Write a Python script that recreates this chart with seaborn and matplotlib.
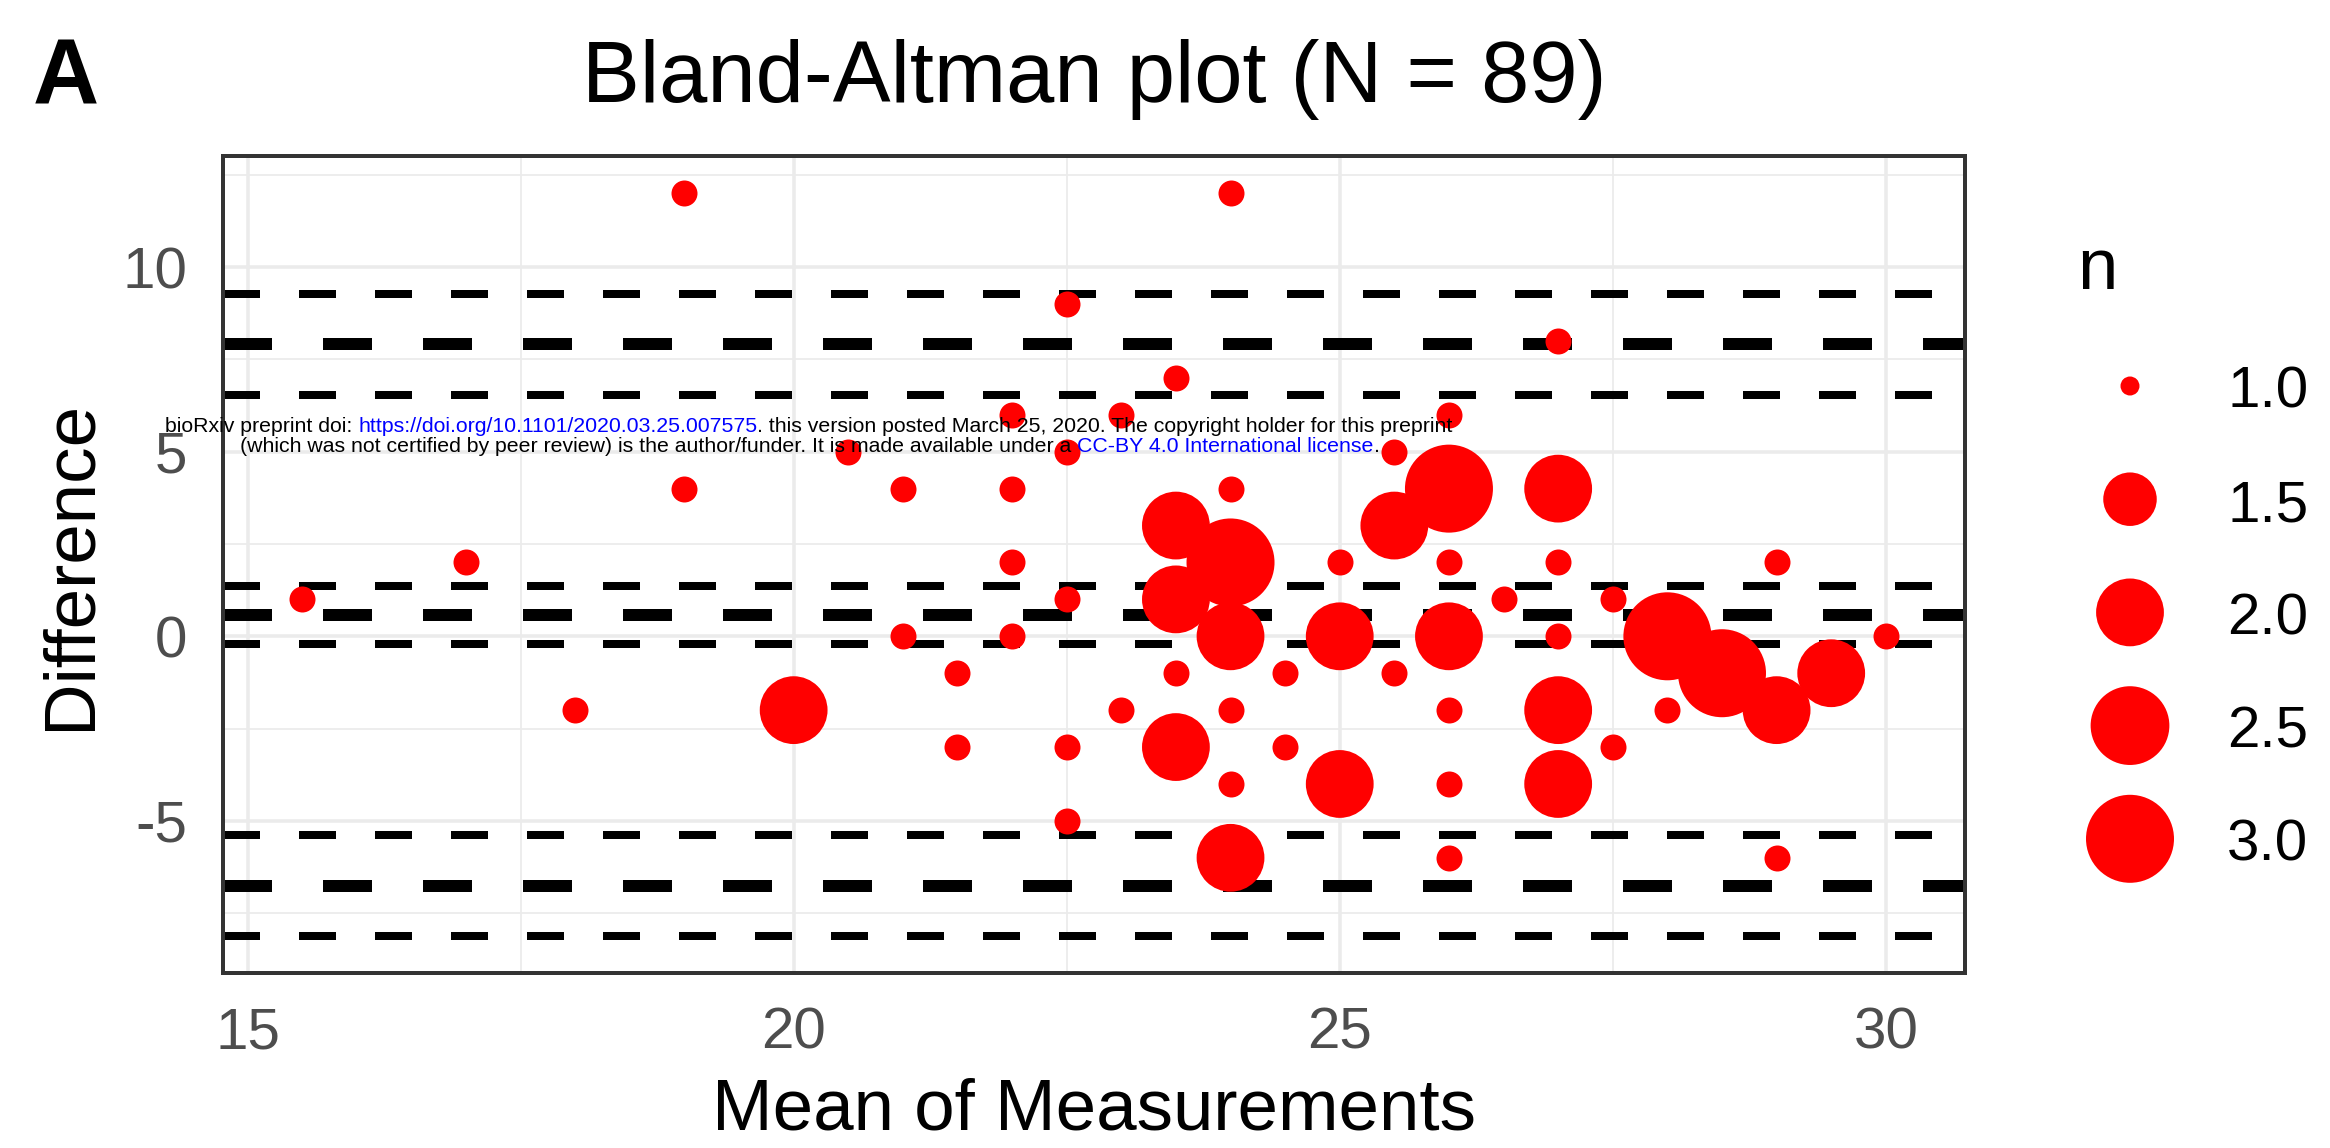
import matplotlib
matplotlib.use("Agg")
import numpy as np
import pandas as pd
import matplotlib.pyplot as plt
import seaborn as sns

mean_vals = [19, 24, 22.5, 27, 23.5, 22, 23, 26, 20.5, 22.5, 25.5, 19, 21, 22, 24,
             17, 22, 25, 26, 27, 29, 15.5, 22.5, 26.5, 27.5, 21, 22, 27, 30,
             21.5, 23.5, 24.5, 25.5, 18, 23, 24, 26, 28, 21.5, 22.5, 24.5, 27.5,
             24, 26, 22.5, 26, 29,
             25.5, 23.5, 27, 23.5, 20, 24, 25, 26, 23.5, 25, 24, 29.5, 29, 27, 27,
             26, 24, 28, 28.5]
diff_vals = [12, 12, 9, 8, 7, 6, 6, 6, 5, 5, 5, 4, 4, 4, 4,
             2, 2, 2, 2, 2, 2, 1, 1, 1, 1, 0, 0, 0, 0,
             -1, -1, -1, -1, -2, -2, -2, -2, -2, -3, -3, -3, -3,
             -4, -4, -5, -6, -6,
             3, 3, 4, 1, -2, 0, 0, 0, -3, -4, -6, -1, -2, -2, -4,
             4, 2, 0, -1]
n_vals = [1] * 47 + [2] * 15 + [3] * 4

# reference lines
bias = 0.59
bias_ci = [-0.22, 1.35]
loa = [-6.76, 7.93]
loa_ci = [-8.11, -5.37, 6.53, 9.28]

legend_vals = [1.0, 1.5, 2.0, 2.5, 3.0]

W, H, DPI = 2330, 1148, 100
PT = 72 / DPI  # points per pixel

sns.set_style("white")
plt.rcParams['font.family'] = ['Liberation Sans', 'DejaVu Sans']
plt.rcParams['lines.scale_dashes'] = False
plt.rcParams['axes.unicode_minus'] = False
plt.rcParams['text.color'] = 'black'
plt.rcParams['axes.labelcolor'] = 'black'


def diam(n):
    # ggplot-like area scale, diameter in pixels
    return 19 + 69 * np.sqrt((n - 1) / 2)


df = pd.DataFrame({'mean': mean_vals, 'diff': diff_vals, 'n': n_vals})

fig = plt.figure(figsize=(W / DPI, H / DPI), dpi=DPI)
ax = fig.add_axes([223 / W, 1 - 973 / H, 1742 / W, 817 / H])

# limit lines
for v in loa_ci + bias_ci:
    ax.axhline(v, color='black', lw=8 * PT, dashes=(37 * PT, 39 * PT), zorder=2)
for v in loa + [bias]:
    ax.axhline(v, color='black', lw=12 * PT, dashes=(49 * PT, 51 * PT), zorder=2)

# points: base layer + count layer
sns.scatterplot(data=df, x='mean', y='diff', s=(26 * PT) ** 2, color='red',
                linewidth=0, legend=False, ax=ax, zorder=3)
size_map = {k: (diam(k) * PT) ** 2 for k in sorted(set(n_vals))}
sns.scatterplot(data=df, x='mean', y='diff', size='n', sizes=size_map, color='red',
                linewidth=0, legend=False, ax=ax, zorder=3)

ax.set_xlim(14.775, 30.725)
ax.set_ylim(-9.12, 13.01)
ax.set_xticks([15, 20, 25, 30])
ax.set_xticks([17.5, 22.5, 27.5], minor=True)
ax.set_yticks([-5, 0, 5, 10])
ax.set_yticks([-7.5, -2.5, 2.5, 7.5, 12.5], minor=True)
ax.set_axisbelow(True)
ax.grid(True, which='major', color='#EBEBEB', lw=3.5 * PT)
ax.grid(True, which='minor', color='#EBEBEB', lw=1.8 * PT)
ax.tick_params(which='minor', length=0)
ax.tick_params(which='major', length=20 * PT, width=3.6 * PT, color='#333333',
               labelsize=42, labelcolor='#4D4D4D')
ax.tick_params(axis='x', pad=10)
ax.tick_params(axis='y', pad=11.5)
for s in ax.spines.values():
    s.set_color('#333333')
    s.set_linewidth(4 * PT)

ax.set_xlabel('Mean of Measurements', fontsize=52.4, color='black')
ax.xaxis.set_label_coords(0.5, -157 / 817)
ax.xaxis.label.set_va('baseline')
ax.set_ylabel('Difference', fontsize=52.4, color='black')
ax.yaxis.set_label_coords((90 - 223) / 1742, 0.5)
ax.yaxis.label.set_rotation_mode('anchor')
ax.yaxis.label.set_va('baseline')
ax.yaxis.label.set_ha('center')

ax.set_title('Bland-Altman plot (N = 89)', fontsize=62.5, pad=0,
             y=(973 - 102) / 817, va='baseline', color='black')
fig.text(33 / W, 1 - 103 / H, 'A', fontsize=66, fontweight='bold',
         va='baseline', ha='left', color='black')

# size legend
lax = fig.add_axes([2000 / W, 1 - 950 / H, 330 / W, 750 / H])
lax.set_xlim(2000, 2330)
lax.set_ylim(950, 200)
lax.axis('off')
ly = [386 + 113.2 * i for i in range(len(legend_vals))]
lax.scatter([2130] * len(legend_vals), ly, s=[(diam(v) * PT) ** 2 for v in legend_vals],
            color='red', linewidth=0, clip_on=False)
for v, y in zip(legend_vals, ly):
    lax.text(2227, y + 22, f'{v:.1f}', fontsize=42, va='baseline', ha='left',
             color='black')
lax.text(2077, 289, 'n', fontsize=52.4, va='baseline', ha='left', color='black')

# preprint stamp
renderer = fig.canvas.get_renderer()
line1 = [("bioRxiv preprint doi: ", 'black'),
         ("https://doi.org/10.1101/2020.03.25.007575", 'blue'),
         (". this version posted March 25, 2020. The copyright holder for this preprint", 'black')]
line2 = [("(which was not certified by peer review) is the author/funder. It is made available under a ", 'black'),
         ("CC-BY 4.0 International license", 'blue'),
         (".", 'black')]


def text_width(s, size):
    t = fig.text(0, 0, s + '|', fontsize=size)
    bar = fig.text(0, 0, '|', fontsize=size)
    w = t.get_window_extent(renderer).width - bar.get_window_extent(renderer).width
    t.remove()
    bar.remove()
    return w


full1 = ''.join(s for s, _ in line1)
stamp_size = 10 * 1296 / text_width(full1, 10)


def draw_stamp(segments, baseline, center):
    full = ''.join(s for s, _ in segments)
    x0 = center - text_width(full, stamp_size) / 2
    prefix = ''
    for s, c in segments:
        x = x0 + (text_width(prefix, stamp_size) if prefix else 0)
        fig.text(x / W, 1 - baseline / H, s, color=c, fontsize=stamp_size,
                 va='baseline', ha='left', zorder=10)
        prefix += s


draw_stamp(line1, 432, 809)
draw_stamp(line2, 452, 810)

fig.savefig('out.png', dpi=DPI)
